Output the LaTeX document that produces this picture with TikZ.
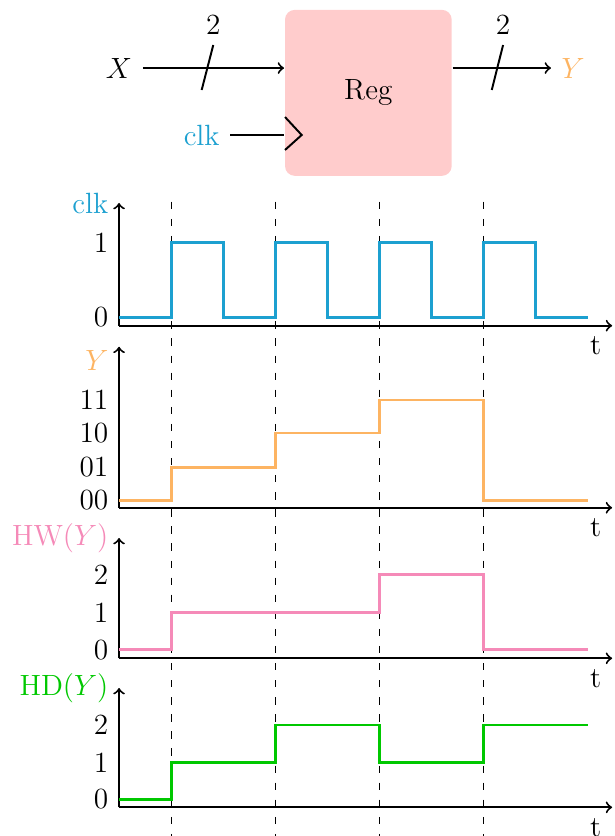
\documentclass[12pt,tikz,border=0pt]{standalone}
\usepackage{amsmath}
\usepackage{xcolor}
\usepackage{tikz}
\usetikzlibrary{arrows}
\definecolor{clkblue}{RGB}{28,160,208}
\definecolor{outorange}{RGB}{253,180,98}
\definecolor{hwpink}{RGB}{245,138,184}
\definecolor{hdgreen}{RGB}{0,200,0}
\definecolor{regfill}{RGB}{255,204,204}

\begin{document}
\begin{tikzpicture}[thick]
\tikzstyle{register}=[rectangle, fill=regfill, rounded corners=4pt,
                    minimum width=2.4cm, minimum height=2.39cm]
\tikzstyle{wave}=[line width=1.2pt, line join=miter]
\tikzstyle{edgeline}=[thin, dash pattern=on 3pt off 4pt]
\useasboundingbox (-1.714,-12.038) rectangle (7.128,0);
  % register block
  \node[register] (reg) at (3.59,-1.337) {Reg};
  \node (X)   at (0,-0.98)     {$X$};
  \node (Y)   at (6.54,-0.98)  {\color{outorange}$Y$};
  \node (clk) at (1.19,-1.944) {\color{clkblue}clk};
  \path[->]    (X) edge (X -| reg.west);
  \path[->]    (Y -| reg.east) edge (Y);
  \draw        (clk) -- (clk -| reg.west);
  \draw        (2.39,-1.685) -- (2.63,-1.944) -- (2.39,-2.16);
  % bus widths
  \draw (1.19,-1.296) -- (1.357,-0.648) node[above] {2};
  \draw (5.367,-1.296) -- (5.53,-0.648) node[above] {2};
  % clock edges
  \foreach \x in {0.75,2.25,3.75,5.25}
    \draw[edgeline] (\x,-2.905) -- (\x,-12.05);
  % clk
  \begin{scope}[yshift=-4.69cm]
    \draw[->] (0,0) -- (7.1,0) node[below left] {t};
    \draw[->] (0,0) -- (0,1.767) node[left] {\color{clkblue}clk};
    \node[left] at (0,1.195) {1};
    \node[left] at (0,0.12)  {0};
    \draw[wave, clkblue] (0,0.12) -- (0.75,0.12) -- (0.75,1.195) -- (1.5,1.195)
      -- (1.5,0.12) -- (2.25,0.12) -- (2.25,1.195) -- (3,1.195) -- (3,0.12)
      -- (3.75,0.12) -- (3.75,1.195) -- (4.5,1.195) -- (4.5,0.12) -- (5.25,0.12)
      -- (5.25,1.195) -- (6,1.195) -- (6,0.12) -- (6.75,0.12);
  \end{scope}
  % Y
  \begin{scope}[yshift=-7.311cm]
    \draw[->] (0,0) -- (7.1,0) node[below left] {t};
    \draw[->] (0,0) -- (0,2.318);
    \node[left] at (0,2.127) {\color{outorange}$Y$};
    \node[left] at (0,1.551) {11};
    \node[left] at (0,1.076) {10};
    \node[left] at (0,0.582) {01};
    \node[left] at (0,0.11)  {00};
    \draw[wave, outorange] (0,0.11) -- (0.75,0.11) -- (0.75,0.582) -- (2.25,0.582)
      -- (2.25,1.076) -- (3.75,1.076) -- (3.75,1.551) -- (5.25,1.551)
      -- (5.25,0.11) -- (6.75,0.11);
  \end{scope}
  % HW(Y)
  \begin{scope}[yshift=-9.479cm]
    \draw[->] (0,0) -- (7.1,0) node[below left] {t};
    \draw[->] (0,0) -- (0,1.732) node[left] {\color{hwpink}HW$(Y)$};
    \node[left] at (0,1.2)   {2};
    \node[left] at (0,0.657) {1};
    \node[left] at (0,0.12)  {0};
    \draw[wave, hwpink] (0,0.12) -- (0.75,0.12) -- (0.75,0.657) -- (3.75,0.657)
      -- (3.75,1.2) -- (5.25,1.2) -- (5.25,0.12) -- (6.75,0.12);
  \end{scope}
  % HD(Y)
  \begin{scope}[yshift=-11.625cm]
    \draw[->] (0,0) -- (7.1,0) node[below left] {t};
    \draw[->] (0,0) -- (0,1.718) node[left] {\color{hdgreen}HD$(Y)$};
    \node[left] at (0,1.185) {2};
    \node[left] at (0,0.648) {1};
    \node[left] at (0,0.115) {0};
    \draw[wave, hdgreen] (0,0.115) -- (0.75,0.115) -- (0.75,0.648) -- (2.25,0.648)
      -- (2.25,1.185) -- (3.75,1.185) -- (3.75,0.648) -- (5.25,0.648)
      -- (5.25,1.185) -- (6.75,1.185);
  \end{scope}
\end{tikzpicture}
\end{document}
